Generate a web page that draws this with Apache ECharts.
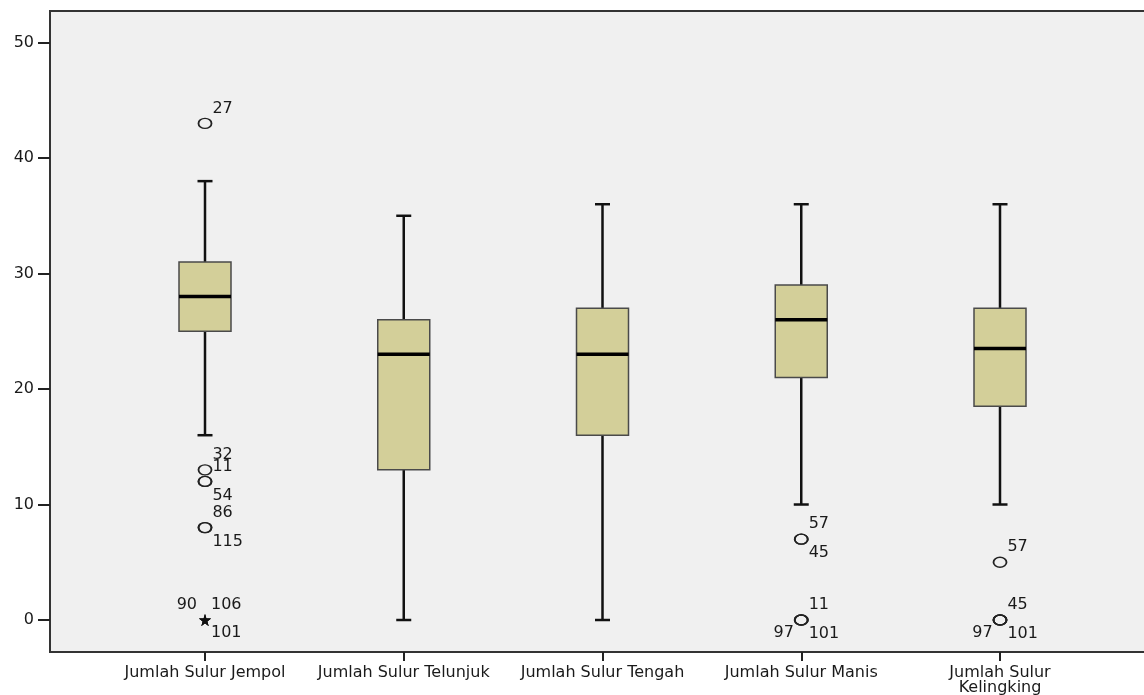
<!DOCTYPE html>
<html>
<head>
<meta charset="utf-8">
<script src="https://cdn.jsdelivr.net/npm/echarts@6/dist/echarts.min.js"></script>
<style>
html,body{margin:0;padding:0;background:#fff;}
#chart{width:1144px;height:695px;}
</style>
</head>
<body>
<div id="chart"></div>
<script>
// ---- data ----
var categories = ['Jumlah Sulur Jempol', 'Jumlah Sulur Telunjuk', 'Jumlah Sulur Tengah', 'Jumlah Sulur Manis', 'Jumlah Sulur\nKelingking'];
var whiskerLow  = [16, 0, 0, 10, 10];
var q1          = [25, 13, 16, 21, 18.5];
var median      = [28, 23, 23, 26, 23.5];
var q3          = [31, 26, 27, 29, 27];
var whiskerHigh = [38, 35, 36, 36, 36];
// outliers: [category index, value, case labels]
var outliers = [
  [0, 43, ['27']],
  [0, 13, ['32']],
  [0, 12, ['11', '54']],
  [0, 8,  ['86', '115']],
  [3, 7,  ['57', '45']],
  [3, 0,  ['11', '101', '97']],
  [4, 5,  ['57']],
  [4, 0,  ['45', '101', '97']]
];
// extremes (star): [category index, value, case labels]
var extremes = [
  [0, 0, ['106', '101', '90']]
];
var yTicks = [0, 10, 20, 30, 40, 50];

// ---- build ----
var font = 'DejaVu Sans';
var textColor = '#1a1a1a';
var boxData = categories.map(function (c, i) {
  return [i + 1, whiskerLow[i], q1[i], median[i], q3[i], whiskerHigh[i]];
});

var outSlots = [
  {position: 'right', offset: [-2, -15]},
  {position: 'right', offset: [-2, 14]},
  {position: 'left', offset: [2, 13]}
];
var extSlots = [
  {position: 'right', offset: [-2, -15]},
  {position: 'right', offset: [-2, 13]},
  {position: 'left', offset: [0, -15]}
];
function pts(list, slots) {
  var res = [];
  list.forEach(function (o) {
    o[2].forEach(function (lab, k) {
      var s = slots[k % slots.length];
      res.push({
        value: [o[0] + 1, o[1]],
        label: {show: true, formatter: lab, position: s.position, offset: s.offset, distance: 2,
          color: textColor, fontFamily: font, fontSize: 16}
      });
    });
  });
  return res;
}

var chart = echarts.init(document.getElementById('chart'), null, {renderer: 'canvas'});
var BOXW = 52, CAPW = 15;
// plot spans x 50..1160 ; category 1 at 205, 5 at 1000
var pxPerUnit = (1000 - 205) / 4;
var gridLeft = 50, gridWidth = 1110;
var xMin = 1 - (205 - gridLeft) / pxPerUnit;
var xMax = xMin + gridWidth / pxPerUnit;
chart.setOption({
  animation: false,
  backgroundColor: '#ffffff',
  grid: {
    left: gridLeft, top: 11, width: gridWidth, height: 641,
    outerBoundsMode: 'none', containLabel: false,
    show: true, backgroundColor: '#f0f0f0', borderColor: '#333', borderWidth: 2
  },
  xAxis: {
    type: 'value', min: xMin, max: xMax,
    splitLine: {show: false},
    axisLine: {show: true, onZero: false, lineStyle: {color: '#333', width: 2}},
    axisTick: {show: true, customValues: [1, 2, 3, 4, 5], length: 9, lineStyle: {color: '#222', width: 2}},
    axisLabel: {
      customValues: [1, 2, 3, 4, 5],
      formatter: function (v) { return categories[Math.round(v) - 1]; },
      fontFamily: font, fontSize: 16, color: textColor, margin: 13, lineHeight: 15,
      hideOverlap: false
    }
  },
  yAxis: {
    type: 'value', min: -2.77, max: 52.73,
    splitLine: {show: false},
    axisLine: {show: true, onZero: false, lineStyle: {color: '#333', width: 2}},
    axisTick: {show: true, customValues: yTicks, length: 12, lineStyle: {color: '#222', width: 2}},
    axisLabel: {customValues: yTicks, fontFamily: font, fontSize: 16, color: textColor, margin: 16}
  },
  series: [
    {
      type: 'custom',
      data: boxData,
      encode: {x: 0, y: [1, 2, 3, 4, 5]},
      renderItem: function (params, api) {
        var x = api.value(0);
        var pMin = api.coord([x, api.value(1)]);
        var pQ1 = api.coord([x, api.value(2)]);
        var pMed = api.coord([x, api.value(3)]);
        var pQ3 = api.coord([x, api.value(4)]);
        var pMax = api.coord([x, api.value(5)]);
        var cx = pMed[0];
        var ls = {stroke: '#111', lineWidth: 2.5};
        return {
          type: 'group',
          children: [
            {type: 'line', shape: {x1: cx, y1: pMax[1], x2: cx, y2: pQ3[1]}, style: ls},
            {type: 'line', shape: {x1: cx, y1: pQ1[1], x2: cx, y2: pMin[1]}, style: ls},
            {type: 'line', shape: {x1: cx - CAPW / 2, y1: pMax[1], x2: cx + CAPW / 2, y2: pMax[1]}, style: ls},
            {type: 'line', shape: {x1: cx - CAPW / 2, y1: pMin[1], x2: cx + CAPW / 2, y2: pMin[1]}, style: ls},
            {type: 'rect', shape: {x: cx - BOXW / 2, y: pQ3[1], width: BOXW, height: pQ1[1] - pQ3[1]},
              style: {fill: '#d3cf99', stroke: '#4a4a4a', lineWidth: 1.5}},
            {type: 'line', shape: {x1: cx - BOXW / 2, y1: pMed[1], x2: cx + BOXW / 2, y2: pMed[1]},
              style: {stroke: '#000', lineWidth: 3.5}}
          ]
        };
      }
    },
    {
      type: 'scatter',
      data: pts(outliers, outSlots),
      symbol: 'circle',
      symbolSize: [13, 10],
      itemStyle: {color: 'rgba(0,0,0,0)', borderColor: '#222', borderWidth: 1.6, opacity: 1},
      label: {fontFamily: font, fontSize: 16, color: textColor},
      emphasis: {disabled: true}
    },
    {
      type: 'scatter',
      data: pts(extremes, extSlots),
      symbol: 'path://M50,0 L61,35 L98,35 L68,57 L79,91 L50,70 L21,91 L32,57 L2,35 L39,35 Z',
      symbolSize: 12,
      itemStyle: {color: '#111', opacity: 1},
      label: {fontFamily: font, fontSize: 16, color: textColor},
      emphasis: {disabled: true}
    }
  ]
});
</script>
</body>
</html>
